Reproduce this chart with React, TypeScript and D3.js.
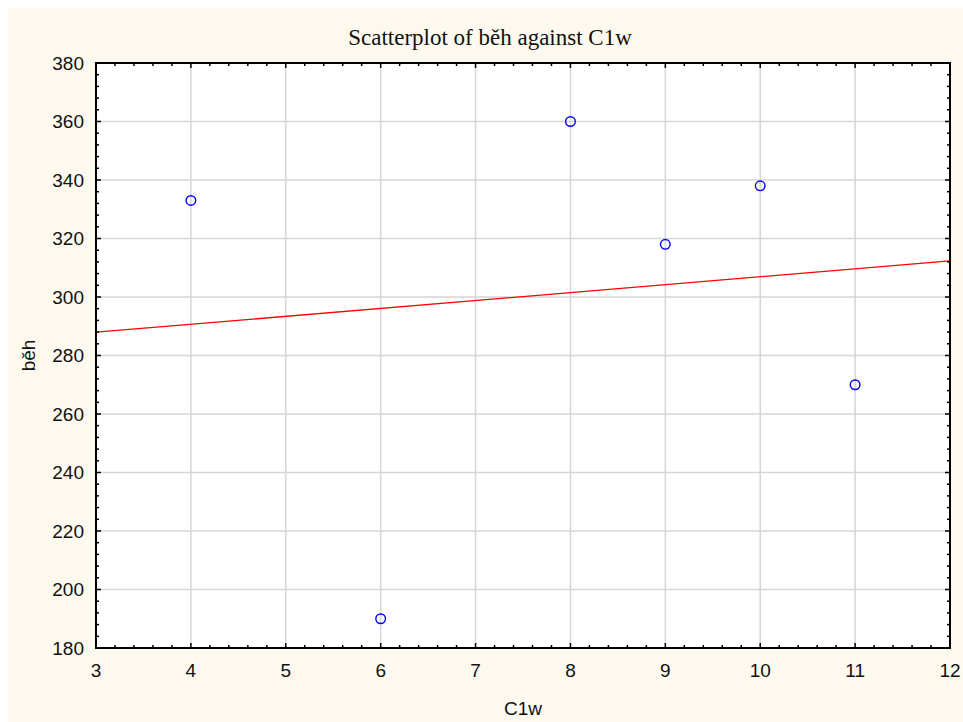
import * as d3 from "d3"

// data
const c1w = [4, 6, 8, 9, 10, 11]
const beh = [333, 190, 360, 318, 338, 270]
const xTicks = [3, 4, 5, 6, 7, 8, 9, 10, 11, 12]
const yTicks = [180, 200, 220, 240, 260, 280, 300, 320, 340, 360, 380]

const W = 955
const H = 714
// plot box, inside the cream panel which starts 8px in
const m = { left: 88, top: 55, right: 13, bottom: 74 }

export default function App() {
  const x = d3.scaleLinear().domain([3, 12]).range([m.left, W - m.right])
  const y = d3.scaleLinear().domain([180, 380]).range([H - m.bottom, m.top])

  // least squares fit
  const mx = d3.mean(c1w)!
  const my = d3.mean(beh)!
  const sxy = d3.sum(c1w, (v, i) => (v - mx) * (beh[i] - my))
  const sxx = d3.sum(c1w, v => (v - mx) ** 2)
  const slope = sxy / sxx
  const icpt = my - slope * mx
  const fit = x.domain().map(v => [x(v), y(icpt + slope * v)] as [number, number])

  const xMinor = d3.range(3, 12, 0.2).filter(v => Math.abs(v - Math.round(v)) > 1e-6)
  const yMinor = d3.range(180, 380, 4).filter(v => v % 20 !== 0)

  const x0 = x.range()[0], x1 = x.range()[1]
  const y0 = y.range()[0], y1 = y.range()[1]
  const sans = "'Liberation Sans', Arial, sans-serif"

  return (
    <svg width={W + 8} height={H + 8} style={{ position: "fixed", left: 0, top: 0 }}>
      <g transform="translate(8,8)">
        <rect width={W} height={H} fill="#fef9ef" />
        <rect x={x0} y={y1} width={x1 - x0} height={y0 - y1} fill="#fff" />

        {/* grid */}
        {xTicks.slice(1, -1).map(t => (
          <line key={"gx" + t} x1={x(t)} x2={x(t)} y1={y1} y2={y0} stroke="#d6d6d6" strokeWidth={1.5} />
        ))}
        {yTicks.slice(1, -1).map(t => (
          <line key={"gy" + t} x1={x0} x2={x1} y1={y(t)} y2={y(t)} stroke="#d6d6d6" strokeWidth={1.5} />
        ))}

        {/* fit line */}
        <path d={d3.line()(fit)!} stroke="#ff0000" strokeWidth={1.3} fill="none" />

        {/* points */}
        {c1w.map((v, i) => (
          <circle key={i} cx={x(v)} cy={y(beh[i])} r={4.8} fill="none" stroke="#0000ff" strokeWidth={1.4} />
        ))}

        {/* inward ticks on all four sides */}
        <g stroke="#000" strokeWidth={1.5}>
          {xTicks.map(t => (
            <g key={"tx" + t}>
              <line x1={x(t)} x2={x(t)} y1={y0} y2={y0 - 5} />
              <line x1={x(t)} x2={x(t)} y1={y1} y2={y1 + 5} />
            </g>
          ))}
          {xMinor.map(t => (
            <g key={"mx" + t}>
              <line x1={x(t)} x2={x(t)} y1={y0} y2={y0 - 3} />
              <line x1={x(t)} x2={x(t)} y1={y1} y2={y1 + 3} />
            </g>
          ))}
          {yTicks.map(t => (
            <g key={"ty" + t}>
              <line x1={x0} x2={x0 + 5} y1={y(t)} y2={y(t)} />
              <line x1={x1} x2={x1 - 5} y1={y(t)} y2={y(t)} />
            </g>
          ))}
          {yMinor.map(t => (
            <g key={"my" + t}>
              <line x1={x0} x2={x0 + 3} y1={y(t)} y2={y(t)} />
              <line x1={x1} x2={x1 - 3} y1={y(t)} y2={y(t)} />
            </g>
          ))}
        </g>
        <rect x={x0} y={y1} width={x1 - x0} height={y0 - y1} fill="none" stroke="#000" strokeWidth={2} />

        {/* tick labels */}
        {xTicks.map(t => (
          <text key={"lx" + t} x={x(t)} y={y0 + 29} textAnchor="middle" fontFamily={sans} fontSize={19} fill="#111">
            {t}
          </text>
        ))}
        {yTicks.map(t => (
          <text key={"ly" + t} x={x0 - 12} y={y(t)} dy="0.35em" textAnchor="end" fontFamily={sans} fontSize={19} fill="#111">
            {t}
          </text>
        ))}

        {/* title is centred on the panel, not the plot */}
        <text x={482} y={37} textAnchor="middle" fontFamily="'Liberation Serif', 'Times New Roman', serif" fontSize={23} fill="#111">
          Scatterplot of běh against C1w
        </text>
        <text x={(x0 + x1) / 2} y={707} textAnchor="middle" fontFamily={sans} fontSize={19} fill="#111">
          C1w
        </text>
        <text transform={`translate(27,${(y0 + y1) / 2}) rotate(-90)`} textAnchor="middle" fontFamily={sans} fontSize={19} fill="#111">
          běh
        </text>
      </g>
    </svg>
  )
}
